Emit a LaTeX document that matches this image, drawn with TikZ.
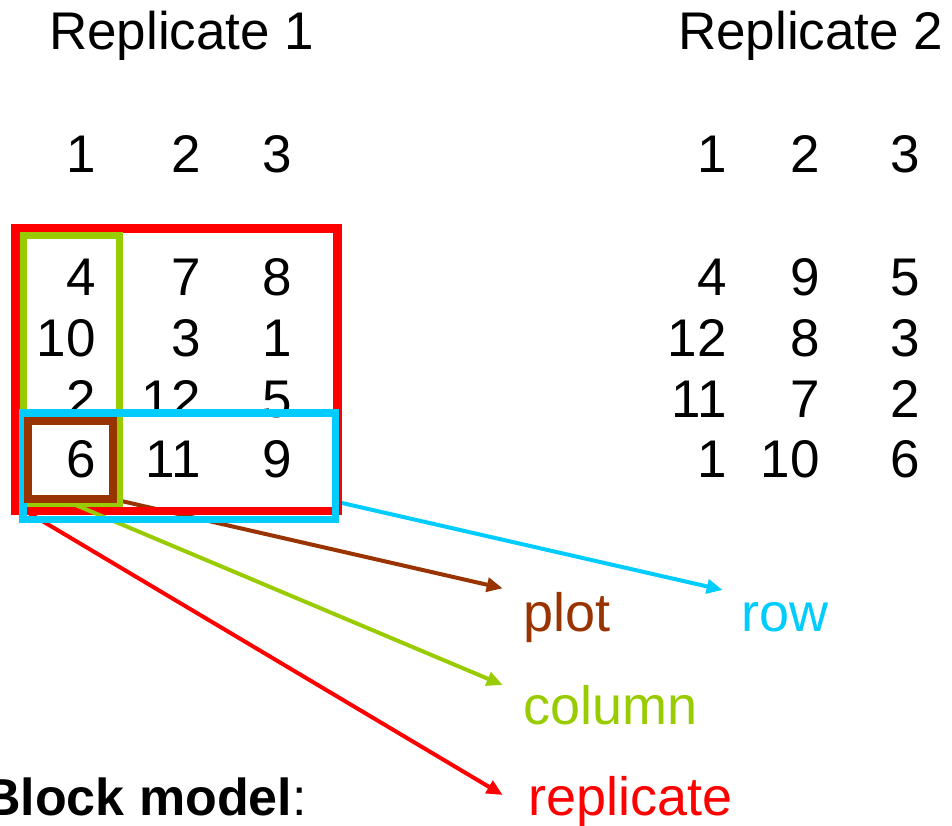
\documentclass[tikz,border=0pt]{standalone}
\usepackage{fontspec}
\setmainfont{Liberation Sans}
\usetikzlibrary{arrows.meta,calc}
\definecolor{cred}{HTML}{FF0000}
\definecolor{cgreen}{HTML}{99CC00}
\definecolor{cbrown}{HTML}{993300}
\definecolor{ccyan}{HTML}{00CCFF}
\begin{document}
\begin{tikzpicture}[x=1pt,y=-1pt,
  num/.style={anchor=base east, inner sep=0, font=\fontsize{53}{60}\selectfont},
  ttl/.style={anchor=base west, inner sep=0, font=\fontsize{53}{60}\selectfont},
  lbl/.style={anchor=base west, inner sep=0, font=\fontsize{54}{60}\selectfont},
  box/.style={draw, rectangle, inner sep=0, outer sep=0, line width=8pt},
  arr/.style={line width=4pt, -{Triangle[length=16pt,width=14pt]}}
]
\useasboundingbox (0,0) rectangle (952,825);
% titles
\node[ttl] (t1) at (49,49.5) {Replicate 1};
\node[ttl] (t2) at (678,49.5) {Replicate 2};
% replicate 1 numbers
\node[num] (ah1) at (96,172.5) {1};
\node[num] (ah2) at (201,172.5) {2};
\node[num] (ah3) at (292,172.5) {3};
\node[num] (a11) at (96,295) {4};
\node[num] (a12) at (201,295) {7};
\node[num] (a13) at (292,295) {8};
\node[num] (a21) at (96,356.5) {10};
\node[num] (a22) at (201,356.5) {3};
\node[num] (a23) at (292,356.5) {1};
\node[num] (a31) at (96,417.5) {2};
\node[num] (a32) at (201,417.5) {12};
\node[num] (a33) at (292,417.5) {5};
\node[num] (a41) at (96,477.5) {6};
\node[num] (a42) at (201,477.5) {11};
\node[num] (a43) at (292,477.5) {9};
% replicate 2 numbers
\node[num] (bh1) at (727,172.5) {1};
\node[num] (bh2) at (820,172.5) {2};
\node[num] (bh3) at (920,172.5) {3};
\node[num] (b11) at (727,295) {4};
\node[num] (b12) at (820,295) {9};
\node[num] (b13) at (920,295) {5};
\node[num] (b21) at (727,356) {12};
\node[num] (b22) at (820,356) {8};
\node[num] (b23) at (920,356) {3};
\node[num] (b31) at (727,417) {11};
\node[num] (b32) at (820,417) {7};
\node[num] (b33) at (920,417) {2};
\node[num] (b41) at (727,477) {1};
\node[num] (b42) at (820,477) {10};
\node[num] (b43) at (920,477) {6};
% labels
\node[lbl, text=cbrown] (lplot) at (523,631.7) {plot};
\node[lbl, text=ccyan] (lrow) at (741.5,631.7) {row};
\node[lbl, text=cgreen] (lcol) at (523,724) {column};
\node[lbl, text=cred] (lrep) at (528,815) {replicate};
\node[anchor=base east, inner sep=0, font=\fontsize{52}{60}\selectfont] (bm) at (307,815) {\textbf{Block model}:};
% box geometry (named, drawn later)
\path (176.4,369.65) node[box, draw=none, minimum width=321.8pt, minimum height=282.7pt] (repbox) {};
\path (179.1,466.4) node[box, draw=none, minimum width=312.8pt, minimum height=106.2pt] (rowbox) {};
\path (71.35,369.1) node[box, draw=none, minimum width=96.7pt, minimum height=268.2pt] (colbox) {};
\path (70.5,460) node[box, draw=none, minimum width=85.6pt, minimum height=78.3pt] (plotbox) {};
% arrow tips and starts
\coordinate (plottip) at (502.7,588.3);
\coordinate (rowtip) at (722.7,590);
\coordinate (coltip) at (502.7,685);
\coordinate (reptip) at (502.7,795);
\coordinate (repstart) at ($(repbox.south west)+(10,0)$);
\coordinate (rowstart) at ($(rowbox.south east)+(0,-18)$);
% arrows below the boxes
\draw[arr, cbrown] (plotbox.south east) -- (plottip);
\draw[arr, cred] (repstart) -- (reptip);
\draw[arr, ccyan] (rowstart) -- (rowtip);
% boxes
\draw[cred, line width=8.5pt] (repbox.south west) rectangle (repbox.north east);
\draw[arr, cgreen] (colbox.south) -- (coltip);
\draw[cgreen, line width=7pt] (colbox.south west) rectangle (colbox.north east);
\draw[ccyan, line width=7.8pt] (rowbox.south west) rectangle (rowbox.north east);
\draw[cbrown, line width=8pt] (plotbox.south west) rectangle (plotbox.north east);
\end{tikzpicture}
\end{document}
